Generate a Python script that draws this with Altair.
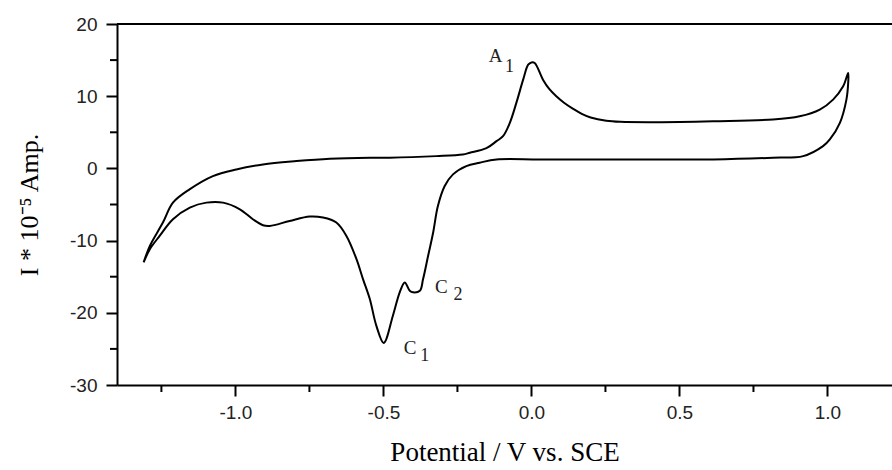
import altair as alt
import pandas as pd

# Forward (anodic) sweep, -1.31 V -> 1.07 V
fwd_potential = [-1.310, -1.289, -1.245, -1.211, -1.155, -1.076, -0.997, -0.907, -0.794, -0.681,
                 -0.545, -0.479, -0.321, -0.232, -0.208, -0.152, -0.118, -0.096, -0.073, -0.051,
                 -0.028, -0.011, 0.000, 0.011, 0.039, 0.060, 0.084, 0.110, 0.141, 0.170,
                 0.200, 0.253, 0.300, 0.422, 0.614, 0.816, 0.906, 0.974, 1.019, 1.053, 1.070]
fwd_current = [-13.02, -10.73, -7.50, -4.74, -2.90, -1.06, -0.14, 0.55, 1.01, 1.34,
               1.48, 1.48, 1.70, 1.93, 2.17, 2.80, 3.77, 4.46, 6.31, 9.07,
               12.29, 14.36, 14.68, 14.60, 12.29, 11.00, 9.99, 9.10, 8.25, 7.55,
               7.05, 6.60, 6.45, 6.40, 6.53, 6.77, 7.22, 8.15, 9.53, 11.37, 13.22]

# Reverse (cathodic) sweep, 1.07 V -> -1.31 V
rev_potential = [1.070, 1.064, 1.042, 1.008, 0.985, 0.918, 0.816, 0.614, 0.253, 0.028,
                 -0.118, -0.175, -0.220, -0.265, -0.293, -0.316, -0.332, -0.349, -0.366, -0.377,
                 -0.400, -0.411, -0.428, -0.445, -0.468, -0.499, -0.524, -0.546, -0.569, -0.591,
                 -0.625, -0.659, -0.704, -0.749, -0.817, -0.884, -0.907, -0.941, -0.985, -1.042,
                 -1.098, -1.154, -1.211, -1.256, -1.289, -1.310]
rev_current = [11.84, 9.53, 6.31, 4.01, 3.08, 1.70, 1.48, 1.24, 1.24, 1.24,
               1.24, 0.79, 0.32, -0.83, -2.44, -5.21, -8.88, -12.11, -15.33, -16.95,
               -17.17, -16.95, -15.79, -17.17, -20.40, -24.17, -21.78, -18.09, -15.33, -12.57,
               -9.35, -7.50, -6.81, -6.67, -7.28, -7.97, -7.87, -7.04, -5.66, -4.74,
               -4.74, -5.43, -7.04, -9.35, -11.19, -13.02]

x_major = [-1.0, -0.5, 0.0, 0.5, 1.0]
x_minor = [-1.25, -0.75, -0.25, 0.25, 0.75]
y_major = [-30, -20, -10, 0, 10, 20]
y_minor = [-25, -15, -5, 5, 15]

peak_letters = ["A", "C", "C"]
peak_letter_x = [-0.121, -0.304, -0.410]
peak_letter_y = [15.54, -16.48, -24.86]
peak_subs = ["1", "2", "1"]
peak_sub_x = [-0.074, -0.248, -0.360]
peak_sub_y = [14.06, -17.51, -25.97]

W, H = 775, 361

potential = fwd_potential + rev_potential
current = fwd_current + rev_current
df = pd.DataFrame({"E": potential, "I": current, "k": list(range(len(potential)))})

xscale = alt.Scale(domain=[-1.4, 1.218], nice=False, zero=False)
yscale = alt.Scale(domain=[-30, 20], nice=False, zero=False)

line = alt.Chart(df).mark_line(color="black", strokeWidth=2, interpolate="catmull-rom").encode(
    x=alt.X("E:Q", scale=xscale, axis=alt.Axis(
        values=x_major, title="Potential / V vs. SCE",
        labelExpr="datum.value < 0 ? '-' + format(-datum.value, '.1f') : format(datum.value, '.1f')",
        grid=False, tickSize=11, tickWidth=2, tickColor="black",
        domainWidth=2, domainColor="black",
        labelFont="Liberation Sans", labelFontSize=19, labelColor="#222",
        labelPadding=7,
        titleFont="Liberation Serif", titleFontSize=27, titleFontWeight="normal",
        titleColor="black", titlePadding=17)),
    y=alt.Y("I:Q", scale=yscale, axis=alt.Axis(
        values=y_major, title="I * 10⁻⁵ Amp.",
        labelExpr="'' + datum.value",
        grid=False, tickSize=11, tickWidth=2, tickColor="black",
        domainWidth=2, domainColor="black",
        labelFont="Liberation Sans", labelFontSize=19, labelColor="#222",
        labelPadding=9,
        titleFont="Liberation Serif", titleFontSize=26, titleFontWeight="normal",
        titleColor="black", titlePadding=27)),
    order="k:Q",
)

xminor = alt.Chart(pd.DataFrame({"E": x_minor})).mark_rule(color="black", strokeWidth=2).encode(
    x=alt.X("E:Q", scale=xscale),
    y=alt.value(H), y2=alt.value(H + 7),
)
yminor = alt.Chart(pd.DataFrame({"I": y_minor})).mark_rule(color="black", strokeWidth=2).encode(
    y=alt.Y("I:Q", scale=yscale),
    x=alt.value(-7), x2=alt.value(0),
)
topline = alt.Chart(pd.DataFrame({"a": [0]})).mark_rule(color="black", strokeWidth=2).encode(
    x=alt.value(0), x2=alt.value(W), y=alt.value(0),
)

letters = alt.Chart(pd.DataFrame({"t": peak_letters, "E": peak_letter_x, "I": peak_letter_y})).mark_text(
    font="Liberation Serif", fontSize=19, color="#222", align="center", baseline="middle"
).encode(x=alt.X("E:Q", scale=xscale), y=alt.Y("I:Q", scale=yscale), text="t:N")

subs = alt.Chart(pd.DataFrame({"t": peak_subs, "E": peak_sub_x, "I": peak_sub_y})).mark_text(
    font="Liberation Serif", fontSize=18, color="#222", align="center", baseline="middle"
).encode(x=alt.X("E:Q", scale=xscale), y=alt.Y("I:Q", scale=yscale), text="t:N")

chart = alt.layer(line, xminor, yminor, topline, letters, subs).properties(
    width=W, height=H,
    autosize=alt.AutoSizeParams(type="none"),
    padding={"left": 117, "top": 24, "right": 0, "bottom": 85},
    background="white",
).configure_view(stroke=None)

chart.save("out.html", embed_options={"renderer": "svg", "actions": False})
